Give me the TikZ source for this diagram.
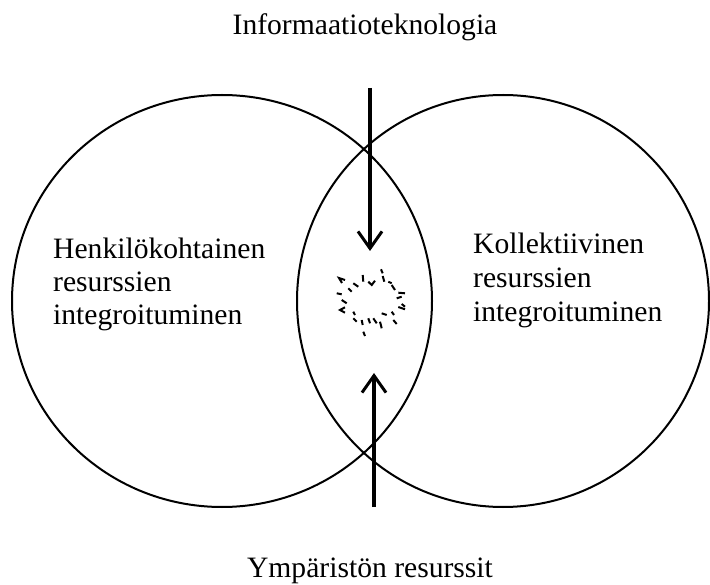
\documentclass[tikz,border=0pt]{standalone}
\usepackage{fontspec}
\setmainfont{Liberation Serif}
\usetikzlibrary{arrows.meta}
\tikzset{
  circ/.style={draw=black, line width=2pt},
  flow/.style={draw=black, line width=3.2pt,
    -{Straight Barb[length=17pt, width=24pt, line width=3pt]}},
  lbl/.style={inner sep=0pt, anchor=base west, font=\fontsize{29.6}{33.5}\selectfont},
  ttl/.style={inner sep=0pt, anchor=base, font=\fontsize{29.6}{33.5}\selectfont},
  spark/.style={draw=black, line width=2pt},
}
\begin{document}
\begin{tikzpicture}[x=1pt, y=-1pt]
\useasboundingbox (0,0) rectangle (710,585);

% the two overlapping sets
\draw[circ] (222,301) ellipse [x radius=210, y radius=206];
\draw[circ] (503,301) ellipse [x radius=206, y radius=206];

% titles
\node[ttl] (it) at (365,35) {Informaatioteknologia};
\node[ttl] (env) at (370,577) {Ympäristön resurssit};

% left set label
\node[lbl] (l1) at (53,259) {Henkilökohtainen};
\node[lbl] (l2) at (53,292) {resurssien};
\node[lbl] (l3) at (53,325) {integroituminen};

% right set label
\node[lbl] (r1) at (473,254) {Kollektiivinen};
\node[lbl] (r2) at (473,288) {resurssien};
\node[lbl] (r3) at (473,322) {integroituminen};

% arrows into the overlap
\coordinate (itStart) at (370,88);
\coordinate (itTip) at (370,251);
\coordinate (envStart) at (374,507);
\coordinate (envTip) at (374,373);
\draw[flow] (itStart) -- (itTip);
\draw[flow] (envStart) -- (envTip);

% spark in the middle of the overlap
\draw[spark] (342,283) -- (339,278) -- (345,280);
\draw[spark] (348.3,288.3) -- (351.7,291.7);
\draw[spark] (353.3,283.3) -- (358.3,286.7);
\draw[spark] (362.7,275) -- (363.3,281.7);
\draw[spark] (368.3,281.7) -- (371.7,285) -- (375,280.7);
\draw[spark] (381,269.3) -- (382.7,273.3);
\draw[spark] (382.7,276) -- (384.3,281.7);
\draw[spark] (388.3,281.7) -- (391.7,283.3);
\draw[spark] (391.7,285) -- (395,290);
\draw[spark] (398.3,292.7) -- (405,293.3);
\draw[spark] (396.7,298.3) -- (401.7,296.7);
\draw[spark] (401.7,304) -- (405,306.7);
\draw[spark] (398.3,307) -- (405,309.3);
\draw[spark] (391.7,311.7) -- (394,315);
\draw[spark] (393.3,320) -- (396.7,324);
\draw[spark] (381.7,313.3) -- (386.7,315);
\draw[spark] (380,321.7) -- (381.7,328.3);
\draw[spark] (373.3,318.3) -- (376.7,323.3);
\draw[spark] (368.3,318.3) -- (370,323.3);
\draw[spark] (361.7,320) -- (362.7,325);
\draw[spark] (363.3,331.7) -- (365,336);
\draw[spark] (353.3,318.3) -- (356.7,321.7);
\draw[spark] (353.3,311.7) -- (355,315);
\draw[spark] (345,307.3) -- (340,310) -- (345,312.7);
\draw[spark] (341.7,300) -- (346.7,303.3);
\draw[spark] (336.7,293.3) -- (341.7,294.3);
\end{tikzpicture}
\end{document}
